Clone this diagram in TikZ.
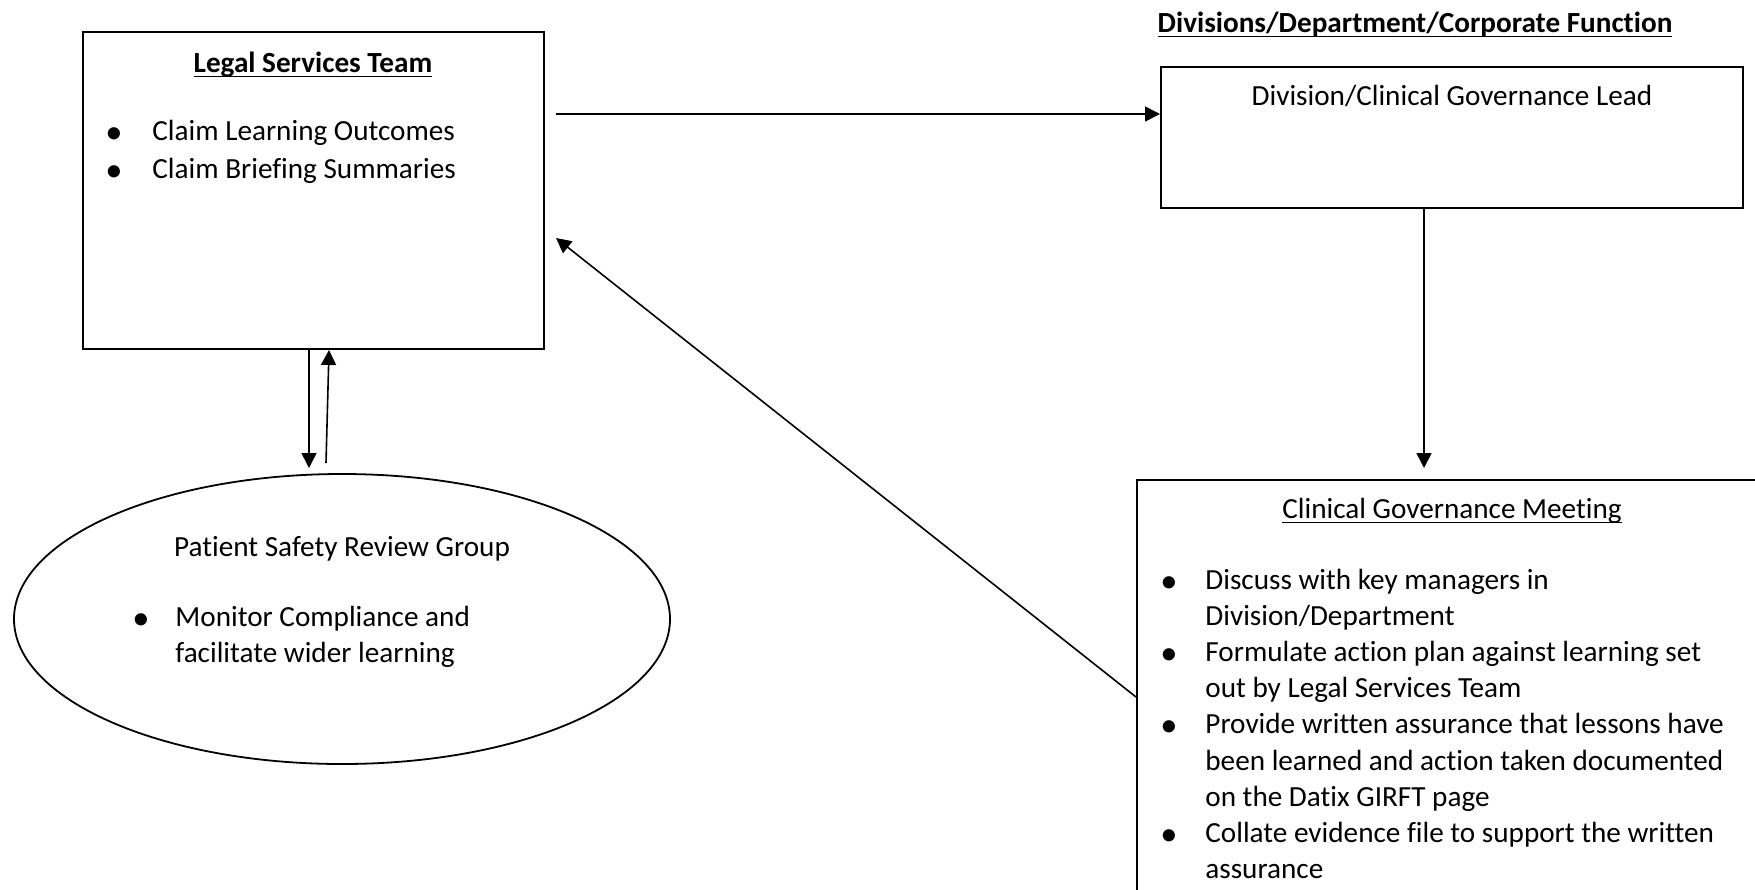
\documentclass[tikz,border=0pt]{standalone}
\usepackage{fontspec}
\setmainfont{Carlito}[Ligatures=NoCommon]
\usetikzlibrary{arrows.meta,shapes.geometric,positioning,calc}

% underline with a heavier rule, as in the reference
\newcommand{\ulhead}[1]{\setbox0\hbox{#1}\rlap{\rule[-2.6pt]{\wd0}{0.85pt}}\box0}
\newcommand{\blt}{\raisebox{-1.5pt}{\LARGE•}}

\tikzset{
    box/.style={draw, line width=1pt, inner sep=0pt},
    arr/.style={-{Triangle[length=7.5pt,width=7.5pt]}, line width=0.8pt},
    txt/.style={anchor=base west, inner sep=0pt, font=\fontsize{14.6}{18.1}\selectfont},
    ctxt/.style={anchor=base, inner sep=0pt, font=\fontsize{14.6}{18.1}\selectfont},
}

\begin{document}
\begin{tikzpicture}[x=0.5pt, y=-0.5pt]
    \useasboundingbox (0,0) rectangle (1755,889);
    \clip (0,0) rectangle (1755,889);

    % Legal services box
    \node[box, minimum width=230.5pt, minimum height=158.5pt] (legal) at (313.5,190.5) {};
    \node[ctxt, font=\fontsize{14.6}{18.1}\selectfont\bfseries] (legalT) at (313,72) {\ulhead{Legal Services Team}};
    \node[txt] (legalL) at (105,140) {%
        \begin{tabular}[t]{@{}p{23.5pt}@{}l@{}}
        \blt & Claim Learning Outcomes\\[1pt]
        \blt & Claim Briefing Summaries
        \end{tabular}};

    % Division side
    \node[ctxt, font=\fontsize{14.6}{18.1}\selectfont\bfseries] (divH) at (1415,32) {\ulhead{Divisions/Department/Corporate Function}};
    \node[box, minimum width=291pt, minimum height=70.5pt] (div) at (1452,137.5) {};
    \node[ctxt] (divT) at (1452,105) {Division/Clinical Governance Lead};

    % Clinical governance meeting (runs off the page)
    \node[box, minimum width=320pt, minimum height=260pt] (cgm) at (1457,740) {};
    \node[ctxt] (cgmT) at (1452,518) {\ulhead{Clinical Governance Meeting}};
    \node[txt] (cgmL) at (1160,589) {%
        \begin{tabular}[t]{@{}p{22.5pt}@{}l@{}}
        \blt & Discuss with key managers in\\
        & Division/Department\\
        \blt & Formulate action plan against learning set\\
        & out by Legal Services Team\\
        \blt & Provide written assurance that lessons have\\
        & been learned and action taken documented\\
        & on the Datix GIRFT page\\
        \blt & Collate evidence file to support the written\\
        & assurance
        \end{tabular}};

    % Patient safety review group
    \node[draw, line width=0.9pt, ellipse, minimum width=328pt, minimum height=145pt, inner sep=0pt] (psrg) at (342,619) {};
    \node[ctxt] (psrgT) at (342,556) {Patient Safety Review Group};
    \node[txt] (psrgL) at (132,626) {%
        \begin{tabular}[t]{@{}p{21.5pt}@{}l@{}}
        \blt & Monitor Compliance and\\
        & facilitate wider learning
        \end{tabular}};

    % Arrow ends
    \coordinate (legalOut) at (556,114);
    \coordinate (legalIn) at (556,238);
    \coordinate (cgmTop) at (1424,468);
    \coordinate (cgmOut) at (1136,697);
    \coordinate (psrgTop) at (309,468);
    \coordinate (psrgOut) at (326,463);

    % Connectors
    \draw[arr] (legalOut) -- (legalOut -| div.west);
    \draw[arr] (div.south -| cgmTop) -- (cgmTop);
    \draw[arr] (cgmOut) -- (legalIn);
    \draw[arr] (legal.south -| psrgTop) -- (psrgTop);
    \draw[arr] (psrgOut) -- ([xshift=1.5pt]legal.south -| psrgOut);
\end{tikzpicture}
\end{document}
